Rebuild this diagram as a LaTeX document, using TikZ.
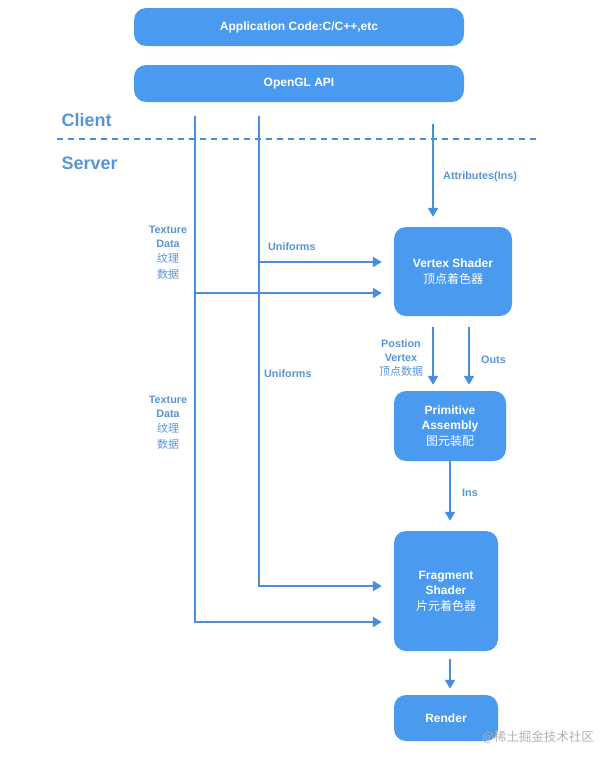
\documentclass[tikz,border=0pt]{standalone}
\usepackage{fontspec}
\setmainfont{Liberation Sans}
\newfontfamily\cjk{Noto Sans CJK SC}
\usetikzlibrary{arrows.meta}
\definecolor{boxblue}{RGB}{74,155,240}
\definecolor{lineblue}{RGB}{72,142,216}
\definecolor{lblblue}{RGB}{88,148,216}
\tikzset{
  box/.style={fill=boxblue, draw=none, rounded corners=12pt, text=white,
    font=\bfseries\fontsize{12}{15.5}\selectfont, align=center, inner sep=0pt},
  lbl/.style={text=lblblue, font=\bfseries\fontsize{10.8}{13.5}\selectfont, align=center, inner sep=0pt},
  side/.style={text=lblblue, font=\bfseries\fontsize{18}{20}\selectfont, inner sep=0pt, anchor=west},
  conn/.style={draw=lineblue, line width=2pt},
  arr/.style={conn, -{Triangle[length=9pt,width=10pt]}},
}
\begin{document}
\begin{tikzpicture}[x=1pt,y=-1pt]
\useasboundingbox (0,0) rectangle (616,764);
% boxes
\node[box, minimum width=330pt, minimum height=38pt] (app) at (299,27) {Application Code:C/C++,etc};
\node[box, minimum width=330pt, minimum height=37pt] (ogl) at (299,83.5) {OpenGL API};
\node[box, minimum width=118pt, minimum height=89pt, font=\bfseries\fontsize{12}{16.5}\selectfont] (vs) at (453,271.5) {Vertex Shader\\{\cjk\mdseries\fontsize{12}{16.5}\selectfont 顶点着色器}};
\node[box, minimum width=112pt, minimum height=70pt, font=\bfseries\fontsize{12}{15.5}\selectfont] (pa) at (450,426) {Primitive\\Assembly\\{\cjk\mdseries 图元装配}};
\node[box, minimum width=104pt, minimum height=120pt, font=\bfseries\fontsize{12}{15.5}\selectfont] (fs) at (446,591) {Fragment\\Shader\\{\cjk\mdseries 片元着色器}};
\node[box, minimum width=104pt, minimum height=46pt] (rd) at (446,718) {Render};

% client / server
\node[side] (client) at (61.5,120) {Client};
\node[side] (server) at (61.5,163) {Server};
\coordinate (dl) at (57,139);
\coordinate (dr) at (540,139);
\draw[draw=lineblue, line width=2.5pt, dash pattern=on 6pt off 5pt] (dl) -- (dr);

% free line starts
\coordinate (t1) at (195,116);
\coordinate (u1) at (259,116);
\coordinate (a1) at (433,124);

% texture data line
\draw[arr, shorten >=12pt] (t1) |- (fs.west |- 0,622);
\draw[arr, shorten >=12pt] (t1 |- 0,293) -- (vs.west |- 0,293);
% uniforms line
\draw[arr, shorten >=12pt] (u1) |- (fs.west |- 0,586);
\draw[arr, shorten >=12pt] (u1 |- 0,262) -- (vs.west |- 0,262);
% attributes
\draw[arr, shorten >=10pt] (a1) -- (vs.north -| a1);
% vertex -> primitive
\draw[arr, shorten <=11pt, shorten >=6pt] (vs.south -| 433,0) -- (pa.north -| 433,0);
\draw[arr, shorten <=11pt, shorten >=6pt] (vs.south -| 469,0) -- (pa.north -| 469,0);
% primitive -> fragment
\draw[arr, shorten >=10pt] (pa.south) -- (fs.north -| pa.south);
% fragment -> render
\draw[arr, shorten <=8pt, shorten >=6pt] (fs.south -| 450,0) -- (rd.north -| 450,0);

% labels
\node[lbl, anchor=west] (attr) at (443,177) {Attributes(Ins)};
\node[lbl, anchor=west] (un1) at (268,247) {Uniforms};
\node[lbl, anchor=west] (un2) at (264,374) {Uniforms};
\node[lbl, anchor=north, font=\bfseries\fontsize{10.8}{15.5}\selectfont] (tx1) at (168,226) {Texture\\[-2pt]Data\\{\cjk\mdseries\fontsize{11}{15}\selectfont 纹理}\\{\cjk\mdseries\fontsize{11}{15}\selectfont 数据}};
\node[lbl, anchor=north, font=\bfseries\fontsize{10.8}{15.5}\selectfont] (tx2) at (168,396) {Texture\\[-2pt]Data\\{\cjk\mdseries\fontsize{11}{15}\selectfont 纹理}\\{\cjk\mdseries\fontsize{11}{15}\selectfont 数据}};
\node[lbl, font=\bfseries\fontsize{10.8}{14}\selectfont] (pos) at (401,358) {Postion\\Vertex\\{\cjk\mdseries\fontsize{11}{14}\selectfont 顶点数据}};
\node[lbl, anchor=west] (outs) at (481,360) {Outs};
\node[lbl, anchor=west] (ins) at (462,493) {Ins};

% watermark
\node[inner sep=0pt, text=black!30, font=\cjk\fontsize{12.5}{14}\selectfont] (wm) at (538,737) {@稀土掘金技术社区};
\end{tikzpicture}
\end{document}
